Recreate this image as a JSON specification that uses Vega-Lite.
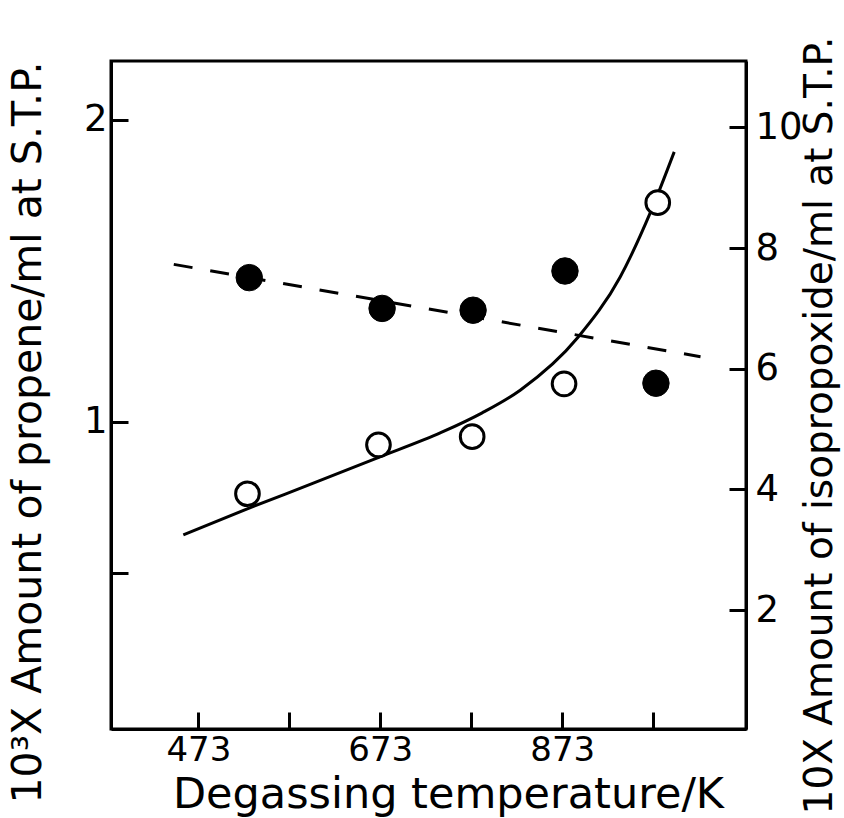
{
  "$schema": "https://vega.github.io/schema/vega-lite/v6.json",
  "width": 635,
  "height": 668,
  "autosize": {"type": "none"},
  "padding": {"left": 111, "top": 61, "right": 98, "bottom": 89},
  "background": "white",
  "config": {
    "font": "DejaVu Sans",
    "view": {"stroke": "black", "strokeWidth": 3},
    "axis": {
      "domainColor": "black", "domainWidth": 3, "tickColor": "black", "tickWidth": 3,
      "tickSize": -17, "grid": false, "labelColor": "black", "titleColor": "black",
      "labelFont": "DejaVu Sans", "titleFont": "DejaVu Sans", "labelFontWeight": "normal", "titleFontWeight": "normal"
    }
  },
  "datasets": {
    "curve": [
      {"t": 456.5, "v": 0.626}, {"t": 526.8, "v": 0.712}, {"t": 599.4, "v": 0.797}, {"t": 670.8, "v": 0.882},
      {"t": 740, "v": 0.965}, {"t": 785, "v": 1.03}, {"t": 826.8, "v": 1.105}, {"t": 890.6, "v": 1.281},
      {"t": 936.7, "v": 1.48}, {"t": 969.7, "v": 1.692}, {"t": 996.1, "v": 1.894}
    ],
    "open": [
      {"t": 527, "v": 0.762}, {"t": 671, "v": 0.924}, {"t": 774, "v": 0.951}, {"t": 875, "v": 1.126}, {"t": 978, "v": 1.726}
    ],
    "filled": [
      {"t": 529, "v": 7.51}, {"t": 675, "v": 7.0}, {"t": 775, "v": 6.97}, {"t": 876, "v": 7.62}, {"t": 976, "v": 5.76}
    ],
    "dash": [
      {"t": 446, "v": 7.73}, {"t": 1025, "v": 6.2}
    ]
  },
  "encoding": {
    "x": {
      "field": "t", "type": "quantitative",
      "scale": {"domain": [377, 1075], "nice": false, "zero": false},
      "axis": {
        "values": [473, 573, 673, 773, 873, 973],
        "labelExpr": "datum.value == 473 || datum.value == 673 || datum.value == 873 ? datum.label : ''",
        "format": "d",
        "labelFontSize": 34, "labelPadding": 21,
        "title": "Degassing temperature/K", "titleFontSize": 43,
        "titleX": 337, "titleY": 78, "titleBaseline": "alphabetic", "titleAlign": "center"
      }
    }
  },
  "layer": [
    {
      "encoding": {
        "y": {
          "field": "v", "type": "quantitative",
          "scale": {"domain": [-0.017, 2.195], "nice": false, "zero": false},
          "axis": {
            "orient": "left",
            "values": [0.5, 1, 2],
            "labelExpr": "datum.value == 0.5 ? '' : datum.label",
            "labelFontSize": 37, "labelPadding": 21,
            "title": "10³X Amount of propene/ml at S.T.P.", "titleFontSize": 41,
            "titleAngle": 270, "titleX": -71, "titleY": 371, "titleAlign": "center", "titleBaseline": "alphabetic"
          }
        }
      },
      "layer": [
        {
          "data": {"name": "curve"},
          "mark": {"type": "line", "color": "black", "strokeWidth": 3, "interpolate": "monotone"}
        },
        {
          "data": {"name": "open"},
          "mark": {"type": "point", "shape": "circle", "filled": true, "fill": "white", "stroke": "black", "strokeWidth": 3, "size": 560, "opacity": 1}
        }
      ]
    },
    {
      "encoding": {
        "y": {
          "field": "v", "type": "quantitative",
          "scale": {"domain": [0.03, 11.1], "nice": false, "zero": false},
          "axis": {
            "orient": "right",
            "values": [2, 4, 6, 8, 10],
            "labelFontSize": 37, "labelPadding": 26,
            "title": "10X Amount of isopropoxide/ml at S.T.P.", "titleFontSize": 39,
            "titleAngle": 270, "titleX": 85, "titleY": 364, "titleAlign": "center", "titleBaseline": "alphabetic"
          }
        }
      },
      "layer": [
        {
          "data": {"name": "dash"},
          "mark": {"type": "line", "color": "black", "strokeWidth": 3, "strokeDash": [19, 18]}
        },
        {
          "data": {"name": "filled"},
          "mark": {"type": "point", "shape": "circle", "filled": true, "fill": "black", "stroke": "black", "strokeWidth": 1, "size": 700, "opacity": 1}
        }
      ]
    }
  ],
  "resolve": {"scale": {"y": "independent"}, "axis": {"y": "independent"}}
}
